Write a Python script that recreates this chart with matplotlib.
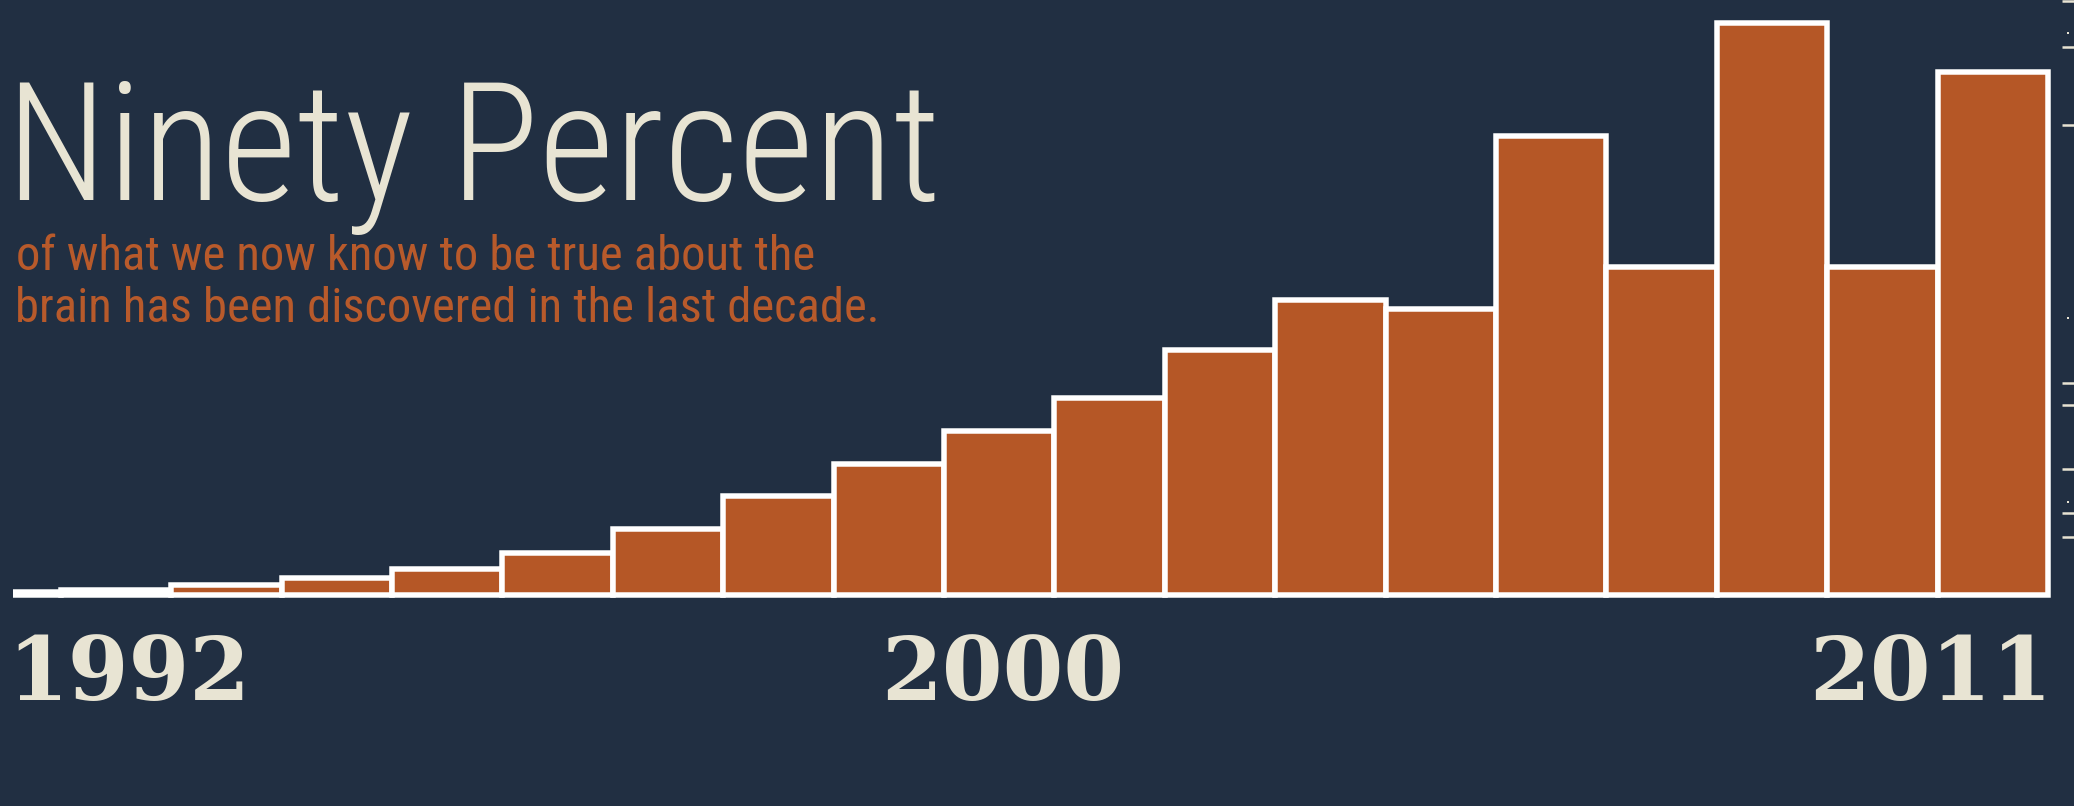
import matplotlib
matplotlib.use("Agg")
import matplotlib.pyplot as plt
from matplotlib import font_manager as fm
from matplotlib.textpath import TextPath

# ---------------- data ----------------
years = list(range(1993, 2012))
values = [0.44, 0.84, 1.61, 2.97, 4.41, 7.29, 11.5, 17.2, 22.8, 28.5,
          34.3, 42.8, 51.4, 49.9, 80.1, 57.2, 100.0, 57.2, 91.4]
year_labels = ["1992", "2000", "2011"]
title_text = "Ninety Percent"
subtitle_lines = ["of what we now know to be true about the",
                  "brain has been discovered in the last decade."]
edge_ticks = [1, 47, 125, 383, 405, 469, 513, 537]
edge_dots = [33, 318, 502]

# ---------------- style ----------------
BG = "#212F42"
BAR = "#B55726"
CREAM = "#E8E4D3"
ORANGE = "#B85A2B"
W, H, DPI = 2074, 806, 100


def pick(cands):
    for c in cands:
        try:
            fm.findfont(fm.FontProperties(family=c), fallback_to_default=False)
            return c
        except Exception:
            pass
    return "DejaVu Sans"


sans = pick(["Roboto Condensed", "Open Sans Condensed", "Liberation Sans Narrow",
             "Lato", "Roboto", "DejaVu Sans"])
serif = pick(["DejaVu Serif", "Liberation Serif"])


def ink(text, fp):
    return TextPath((0, 0), text, size=100, prop=fp).get_extents()


def fit(text, fp, ref_glyph, h_px, w_px):
    """font size (pt) so that ref glyph height ~h_px and text width <= w_px"""
    hr = ink(ref_glyph, fp).height / 100.0
    wr = ink(text, fp).width / 100.0
    s_h = (h_px * 72 / DPI) / hr
    s_w = (w_px * 72 / DPI) / wr
    return min(s_h, s_w)


def px(pt):
    return pt * DPI / 72.0


fig = plt.figure(figsize=(W / DPI, H / DPI), dpi=DPI, facecolor=BG)

# ---------------- bars ----------------
ax = fig.add_axes([13 / W, (H - 610) / H, (W - 13) / W, 610 / H])
ax.set_facecolor(BG)
ax.bar(years, values, width=1.0, color=BAR, edgecolor="white",
       linewidth=5.5 * 72 / DPI, zorder=2)
x0 = 1993.5 - 47.8 / 110.4
ax.set_xlim(x0, x0 + (W - 13) / 110.4)
ax.set_ylim(-(610 - 594.5) / 5.72, 594.5 / 5.72)
ax.axis("off")

# ---------------- titles ----------------
fp_t = fm.FontProperties(family=sans, weight="light")
fs_t = fit(title_text, fp_t, "N", 124, 915)
e = ink(title_text, fp_t)
off = px(e.x0 * fs_t / 100)
fig.text((20 - off) / W, (H - 200) / H, title_text, fontproperties=fp_t,
         fontsize=fs_t, color=CREAM, ha="left", va="baseline")

fp_s = fm.FontProperties(family=sans, weight="normal")
fs_s = fit(subtitle_lines[1], fp_s, "b", 37, 861)
for line, base in zip(subtitle_lines, [270, 322]):
    e = ink(line, fp_s)
    off = px(e.x0 * fs_s / 100)
    fig.text((18 - off) / W, (H - base) / H, line, fontproperties=fp_s,
             fontsize=fs_s, color=ORANGE, ha="left", va="baseline")

# ---------------- year labels ----------------
fp_y = fm.FontProperties(family=serif, weight="bold")
fs_y = fit("2000", fp_y, "0", 66, 253)
# anchor of the ink: 1992 left edge, 2000 centre, 2011 right edge
anchors = [(18, 0.0), (1003, 0.5), (2043, 1.0)]
for lab, (x_a, frac) in zip(year_labels, anchors):
    e = ink(lab, fp_y)
    ink_x0 = px(e.x0 * fs_y / 100)
    ink_w = px(e.width * fs_y / 100)
    x_text = x_a - frac * ink_w - ink_x0
    fig.text(x_text / W, (H - 700) / H, lab, fontproperties=fp_y,
             fontsize=fs_y, color=CREAM, ha="left", va="baseline")

# ---------------- clipped edge ticks at right ----------------
axr = fig.add_axes([2062 / W, 0, 12 / W, 1])
axr.set_xlim(0, 1)
axr.set_ylim(H, 0)
axr.hlines(edge_ticks, 0, 1, color=CREAM, linewidth=2.5 * 72 / DPI)
axr.scatter([0.5] * len(edge_dots), edge_dots, s=4, marker="s", color=CREAM,
            linewidths=0)
axr.axis("off")

fig.savefig("out.png", dpi=DPI, facecolor=BG)
